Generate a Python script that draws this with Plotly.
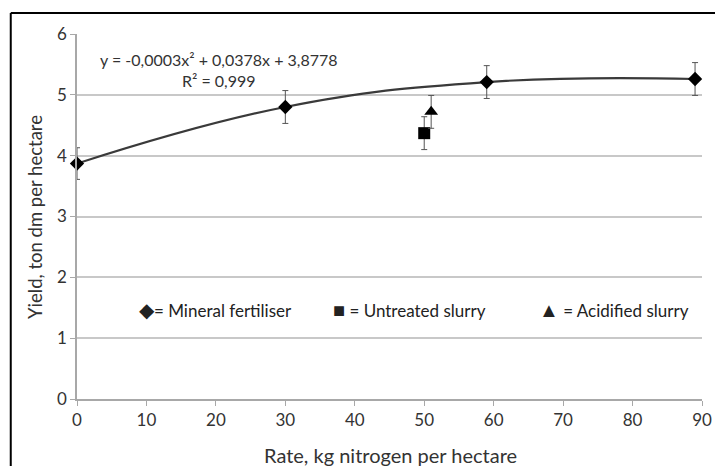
import plotly.graph_objects as go

# Mineral fertiliser series
rate_mineral = [0, 30, 59, 89]
yield_mineral = [3.87, 4.80, 5.21, 5.26]
err_mineral = [0.26, 0.27, 0.27, 0.27]

# Slurry treatments
rate_untreated = [50]
yield_untreated = [4.37]
err_untreated = [0.27]

rate_acidified = [51]
yield_acidified = [4.72]
err_acidified = [0.27]

x_ticks = [0, 10, 20, 30, 40, 50, 60, 70, 80, 90]
y_ticks = [0, 1, 2, 3, 4, 5, 6]

FONT = 'Lato, "Open Sans", sans-serif'
TEXT = '#333333'
GRID = '#c8c8c8'
AXIS = '#a8a8a8'

fig = go.Figure()

# smoothed line through the mineral points (stands in for the Excel trendline)
fig.add_trace(go.Scatter(
    x=rate_mineral, y=yield_mineral,
    mode='lines', line=dict(color='#3a3a3a', width=2.2, shape='spline', smoothing=1.2),
    hoverinfo='skip', cliponaxis=False,
))

errbar = dict(type='data', thickness=1, width=3, color='#555555')

fig.add_trace(go.Scatter(
    x=rate_mineral, y=yield_mineral, mode='markers',
    marker=dict(symbol='diamond', size=11, color='black'),
    error_y=dict(array=err_mineral, **errbar),
    name='Mineral fertiliser', cliponaxis=False,
))
fig.add_trace(go.Scatter(
    x=rate_untreated, y=yield_untreated, mode='markers',
    marker=dict(symbol='square', size=12, color='black'),
    error_y=dict(array=err_untreated, **errbar),
    name='Untreated slurry', cliponaxis=False,
))
fig.add_trace(go.Scatter(
    x=rate_acidified, y=yield_acidified, mode='markers',
    marker=dict(symbol='triangle-up', size=12, color='black'),
    error_y=dict(array=err_acidified, **errbar),
    name='Acidified slurry', cliponaxis=False,
))

# equation of the trendline
fig.add_annotation(
    x=20.5, y=5.41, xref='x', yref='y', showarrow=False, align='center',
    text='y = -0,0003x² + 0,0378x + 3,8778<br>R² = 0,999',
    font=dict(family=FONT, size=16, color=TEXT),
)

# in-plot legend, written as text
legend_items = [
    (8.6, '◆', '= Mineral fertiliser'),
    (36.6, '■', ' = Untreated slurry'),
    (66.2, '▲', ' = Acidified slurry'),
]
for lx, sym, label in legend_items:
    fig.add_annotation(
        x=lx, y=1.48, xref='x', yref='y', showarrow=False, xanchor='left',
        text=f'<span style="font-size:20px">{sym}</span>{label}',
        font=dict(family=FONT, size=17, color='#222222'),
    )

# axis titles
fig.add_annotation(
    x=0.502, y=-0.153, xref='paper', yref='paper', showarrow=False,
    xanchor='center', yanchor='middle',
    text='Rate, kg nitrogen per hectare', font=dict(family=FONT, size=20, color=TEXT),
)
fig.add_annotation(
    x=-0.067, y=0.499, xref='paper', yref='paper', showarrow=False, textangle=-90,
    xanchor='center', yanchor='middle',
    text='Yield, ton dm per hectare', font=dict(family=FONT, size=18.5, color=TEXT),
)

# frame round the chart (left and top edges are visible)
fig.add_shape(type='line', xref='paper', yref='paper', x0=-0.106, x1=-0.106, y0=-0.3, y1=1.0575,
              line=dict(color='black', width=2))
fig.add_shape(type='line', xref='paper', yref='paper', x0=-0.106, x1=1.05, y0=1.0575, y1=1.0575,
              line=dict(color='black', width=2))

# page body has an 8px margin, so keep the figure inside the window
fig.update_layout(
    width=715, height=458,
    margin=dict(l=69, r=21, t=26, b=67),
    paper_bgcolor='white', plot_bgcolor='white',
    showlegend=False,
    font=dict(family=FONT, size=17, color=TEXT),
)
fig.update_xaxes(
    range=[0, 90], tickvals=x_ticks, showgrid=False, zeroline=False, automargin=False,
    showline=True, linecolor=AXIS, linewidth=1.5,
    ticks='outside', ticklen=5, tickcolor=AXIS,
    tickfont=dict(family=FONT, size=17, color=TEXT),
)
fig.update_yaxes(
    range=[0, 6], tickvals=y_ticks, showgrid=True, gridcolor=GRID, gridwidth=1.5,
    zeroline=False, automargin=False, showline=True, linecolor=AXIS, linewidth=1.5,
    ticks='outside', ticklen=5, tickcolor=AXIS,
    tickfont=dict(family=FONT, size=17, color=TEXT),
)

fig.write_html('out.html')
